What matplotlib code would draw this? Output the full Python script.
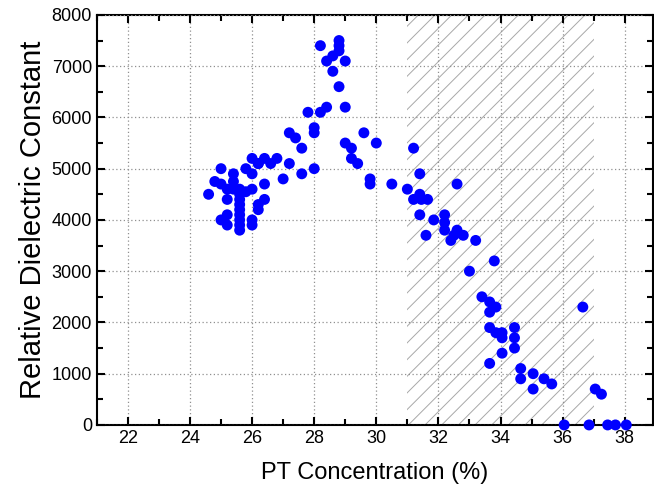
#! /usr/bin/env python3
import numpy as np
import matplotlib
matplotlib.use("Agg")
import matplotlib.pyplot as plt
from matplotlib.patches import Rectangle
from matplotlib.ticker import MultipleLocator

plt.rcParams['font.family'] = ['Liberation Sans', 'DejaVu Sans']
plt.rcParams['hatch.linewidth'] = 0.7

# PT concentration (%) and relative dielectric constant
pt = [24.6, 24.8, 25.0, 25.0, 25.0, 25.2, 25.2, 25.2, 25.2,
      25.4, 25.4, 25.4,
      25.6, 25.6, 25.6, 25.6, 25.6, 25.6, 25.6, 25.6, 25.6, 25.8,
      25.8, 26.0, 26.0, 26.0, 26.0, 26.0, 26.2, 26.2, 26.2,
      26.4, 26.4, 26.4, 26.2, 26.6, 26.8, 27.0, 27.2, 27.2, 27.4,
      27.6, 27.6, 28.0, 28.0, 28.0, 27.8, 28.2, 28.4, 28.2,
      28.4, 28.6, 28.6, 28.8, 28.8, 28.8, 28.8, 29.0, 29.0,
      29.0, 29.2, 29.2, 29.4, 29.6, 29.8, 29.8, 30.0, 30.5,
      31.0, 31.2, 31.4, 31.4, 31.2, 31.45, 31.65, 31.4, 31.6, 31.85,
      32.2, 32.2, 32.2, 32.6, 32.6, 32.5, 32.8, 32.4, 32.6,
      33.2, 33.8, 33.0, 33.4, 33.65, 33.85, 33.65, 33.65, 33.85,
      34.05, 34.05, 34.45, 34.45, 34.45, 34.05, 33.65,
      34.65, 34.65, 35.05, 35.05, 35.4, 35.65, 36.65, 37.05, 37.25,
      36.05, 36.85, 37.45, 37.7, 38.05]
eps = [4500, 4750, 5000, 4700, 4000, 4600, 4400, 4100, 3900,
       4900, 4750, 4600,
       4600, 4500, 4400, 4300, 4200, 4100, 4000, 3900, 3800, 4550,
       5000, 5200, 4900, 4600, 4000, 3900, 5100, 4300, 4200,
       5200, 4700, 4400, 5100, 5100, 5200, 4800, 5100, 5700, 5600,
       5400, 4900, 5000, 5700, 5800, 6100, 6100, 6200, 7400,
       7100, 7200, 6900, 7500, 7400, 7300, 6600, 7100, 6200,
       5500, 5400, 5200, 5100, 5700, 4800, 4700, 5500, 4700,
       4600, 5400, 4900, 4500, 4400, 4400, 4400, 4100, 3700, 4000,
       4100, 3950, 3800, 4700, 3800, 3700, 3700, 3600, 3750,
       3600, 3200, 3000, 2500, 2400, 2300, 2200, 1900, 1800,
       1800, 1700, 1900, 1700, 1500, 1400, 1200,
       1100, 900, 1000, 700, 900, 800, 2300, 700, 600,
       0, 0, 0, 0, 0]

fig = plt.figure(figsize=(6.54, 4.97), dpi=100)
ax = fig.add_axes([0.148, 0.145, 0.85, 0.825])

# shaded band 31-37 %
band = Rectangle((31, 0), 6, 8000, facecolor="none", edgecolor="#a8a8a8",
                 hatch="//", linewidth=0, zorder=1)
ax.add_patch(band)

ax.scatter(pt, eps, s=62, color="#0000ff", edgecolors="none", zorder=3, clip_on=False)

ax.set_xlim(21, 38.9)
ax.set_ylim(0, 8000)
ax.xaxis.set_major_locator(MultipleLocator(2))
ax.xaxis.set_minor_locator(MultipleLocator(1))
ax.yaxis.set_major_locator(MultipleLocator(1000))
ax.yaxis.set_minor_locator(MultipleLocator(500))
ax.grid(True, which="major", linestyle=(0, (1, 2)), color="#909090", linewidth=0.9, zorder=2)
ax.set_axisbelow(False)
ax.tick_params(which="both", direction="in", top=True, right=True, width=1.5, labelsize=13)
ax.tick_params(which="major", length=6)
ax.tick_params(which="minor", length=4)
for s in ax.spines.values():
    s.set_linewidth(1.5)

ax.set_xlabel("PT Concentration (%)", fontsize=17, labelpad=11)
ax.set_ylabel("Relative Dielectric Constant", fontsize=21, labelpad=3)

plt.savefig("out.png", dpi=100)
